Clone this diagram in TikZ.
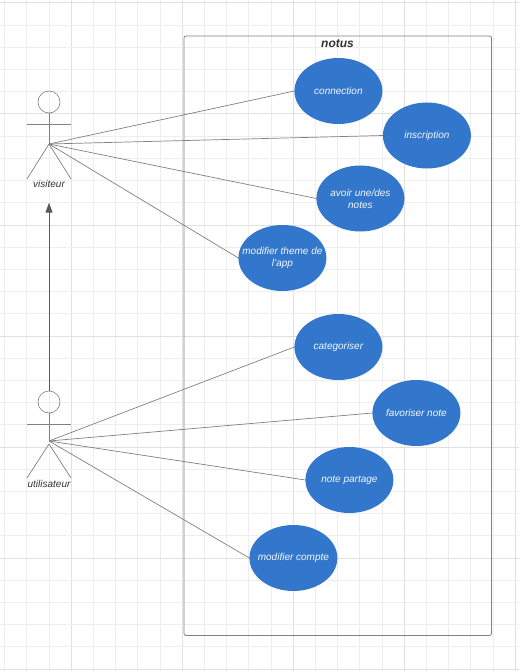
\documentclass[tikz,border=0pt]{standalone}
\usepackage{fontspec}
\setmainfont{Liberation Sans}
\usetikzlibrary{shapes.geometric, arrows.meta, positioning}
\definecolor{gridminor}{HTML}{EEEEEE}
\definecolor{gridmajor}{HTML}{E0E0E0}
\definecolor{caseblue}{HTML}{3377CC}
\definecolor{inkgray}{HTML}{333333}
\tikzset{
    usecase/.style = {ellipse, minimum width=88pt, minimum height=66pt, inner xsep=-10pt, inner ysep=0pt, outer sep=0pt, align=center, fill=caseblue, text=white!95!caseblue, font=\itshape\fontsize{10}{12}\selectfont},
    actorhead/.style = {circle, minimum size=22pt, inner sep=0pt, outer sep=0pt, draw=black!50, line width=0.6pt},
    actorlabel/.style = {inner sep=0pt, text=inkgray, font=\itshape\fontsize{10}{12}\selectfont},
    actorline/.style = {draw=black!50, line width=0.7pt},
    assoc/.style = {draw=black!50, line width=0.7pt},
    arrow/.style = {draw=black!65, line width=1pt, -{Stealth[length=10pt, width=7pt, inset=0pt]}}
}

\begin{document}
\begin{tikzpicture}[x=1pt, y=-1pt]
\useasboundingbox (0,0) rectangle (519,671);

% --- BACKGROUND GRID ---
\foreach \i in {0,...,23} {
    \pgfmathsetmacro{\gridx}{4.5+22.2*\i}
    \pgfmathtruncatemacro{\major}{mod(\i,5)==3}
    \ifnum\major=1
        \draw [gridmajor, line width=0.8pt] (\gridx,0) -- (\gridx,671);
    \else
        \draw [gridminor, line width=0.7pt] (\gridx,0) -- (\gridx,671);
    \fi
}
\foreach \i in {0,...,30} {
    \pgfmathsetmacro{\gridy}{2.9+22.2*\i}
    \pgfmathtruncatemacro{\major}{mod(\i,5)==0}
    \ifnum\major=1
        \draw [gridmajor, line width=0.8pt] (0,\gridy) -- (519,\gridy);
    \else
        \draw [gridminor, line width=0.7pt] (0,\gridy) -- (519,\gridy);
    \fi
}

% --- SYSTEM BOX ---
\node (system) [draw=black!50, rounded corners=2pt, line width=0.8pt, minimum width=307.5pt, minimum height=599.5pt, inner sep=0pt, outer sep=0pt] at (337.75,335.75) {};
\node (notus) [text=inkgray, inner sep=0pt, font=\bfseries\itshape\fontsize{12}{14}\selectfont] at (337.5,43.5) {notus};

% --- USE CASES ---
\node (connection) [usecase] at (338.4,91) {connection};
\node (inscription) [usecase, below=-21.5pt of connection, xshift=88.5pt] {inscription};
\node (notes) [usecase, below=-3pt of inscription, xshift=-66.5pt] {avoir une/des\\notes};
\node (theme) [usecase, below=-6.5pt of notes, xshift=-78pt] {modifier theme de\\l'app};
\node (categoriser) [usecase, below=23pt of theme, xshift=56pt] {categoriser};
\node (favoriser) [usecase, below=0pt of categoriser, xshift=78pt] {favoriser note};
\node (partage) [usecase, below=1pt of favoriser, xshift=-67pt] {note partage};
\node (compte) [usecase, below=12pt of partage, xshift=-56pt] {modifier compte};

% --- ACTORS ---
\node (visiteur_head) [actorhead] at (49,102) {};
\coordinate [below=31pt of visiteur_head] (visiteur_hub);
\node (visiteur) [actorlabel, below=36.5pt of visiteur_hub] {visiteur};
\draw [actorline] (visiteur_head.south) -- (visiteur_hub);
\draw [actorline] ([yshift=20pt]visiteur_hub) ++(-22pt,0) -- ++(44pt,0);
\draw [actorline] (visiteur_hub) -- ++(-22pt,-35pt);
\draw [actorline] (visiteur_hub) -- ++(22pt,-35pt);

\node (utilisateur_head) [actorhead] at (49,402) {};
\coordinate [below=28pt of utilisateur_head] (utilisateur_hub);
\node (utilisateur) [actorlabel, below=39.5pt of utilisateur_hub] {utilisateur};
\draw [actorline] (utilisateur_head.south) -- (utilisateur_hub);
\draw [actorline] ([yshift=17pt]utilisateur_hub) ++(-22pt,0) -- ++(44pt,0);
\draw [actorline] ([yshift=-3pt]utilisateur_hub) -- ++(-22pt,-34pt);
\draw [actorline] ([yshift=-3pt]utilisateur_hub) -- ++(22pt,-34pt);

% --- CONNECTIONS ---

% Visiteur
\draw [assoc] (visiteur_hub) -- (connection.west);
\draw [assoc] (visiteur_hub) -- (inscription.west);
\draw [assoc] (visiteur_hub) -- (notes.west);
\draw [assoc] (visiteur_hub) -- (theme.west);

% Utilisateur
\draw [assoc] (utilisateur_hub) -- (categoriser.west);
\draw [assoc] (utilisateur_hub) -- (favoriser.west);
\draw [assoc] (utilisateur_hub) -- (partage.west);
\draw [assoc] (utilisateur_hub) -- (compte.west);

% Inheritance
\coordinate [below=14.5pt of visiteur] (visiteur_foot);
\draw [arrow] (utilisateur_head.north) -- (visiteur_foot);

\end{tikzpicture}
\end{document}
